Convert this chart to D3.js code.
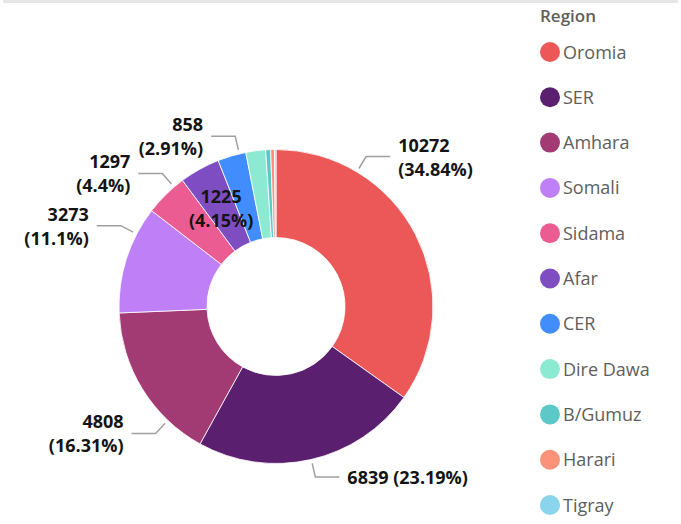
<!DOCTYPE html>
<html>
<head>
<meta charset="utf-8">
<script src="https://cdn.jsdelivr.net/npm/d3@7"></script>
<style>
  html, body { margin: 0; padding: 0; background: #fff; }
  svg { display: block; font-family: "Open Sans", "Noto Sans", sans-serif; }
</style>
</head>
<body>
<div id="chart"></div>
<script>
// data
const regions = ["Oromia", "SER", "Amhara", "Somali", "Sidama", "Afar", "CER",
  "Dire Dawa", "B/Gumuz", "Harari", "Tigray"];
const counts = [10272, 6839, 4808, 3273, 1297, 1225, 858, 600, 150, 115, 45];
const shares = ["34.84%", "23.19%", "16.31%", "11.1%", "4.4%", "4.15%", "2.91%",
  "", "", "", ""];
const colors = ["#EC5858", "#5B1F70", "#A23A74", "#BF80F7", "#EB5C93", "#7F4DC2",
  "#428DFD", "#8DEAD2", "#5CC8C7", "#FD927A", "#8AD4EC"];

// where the outside labels hook onto the ring (degrees, clockwise from top)
const labelHooks = { Oromia: 31, SER: 167, Amhara: 223.5, Somali: 297.5, Sidama: 319.5, CER: 346.5 };
const singleLine = ["SER"];
const insideLabels = ["Afar"];

const W = 681, H = 524;
const cx = 276, cy = 306.5, R = 157, r0 = 69;
const labelSize = 18;

const svg = d3.select("#chart").append("svg")
  .attr("width", W).attr("height", H);

// top grey strip
svg.append("rect")
  .attr("x", 3).attr("y", 0).attr("width", W - 6).attr("height", 3)
  .attr("fill", "#e6e6e6");

const data = regions.map((name, i) => ({ name, value: counts[i], share: shares[i], color: colors[i] }));

const pie = d3.pie().value(d => d.value).sort(null);
const arcs = pie(data);
const arc = d3.arc().innerRadius(r0).outerRadius(R);

const g = svg.append("g").attr("transform", `translate(${cx},${cy})`);

g.selectAll("path.slice")
  .data(arcs)
  .join("path")
  .attr("class", "slice")
  .attr("d", arc)
  .attr("fill", d => d.data.color)
  .attr("stroke", "#fff")
  .attr("stroke-width", 0.8);

// outside labels with elbow leaders
const pt = (deg, rad) => {
  const a = deg * Math.PI / 180;
  return [rad * Math.sin(a), -rad * Math.cos(a)];
};

arcs.filter(d => labelHooks[d.data.name] !== undefined).forEach(d => {
  const deg = labelHooks[d.data.name];
  const right = deg < 180;
  const p0 = pt(deg, R + 4);
  const p1 = pt(deg, R + 18);
  const p2 = [p1[0] + (right ? 24 : -24), p1[1]];

  g.append("polyline")
    .attr("points", [p0, p1, p2].map(p => p.join(",")).join(" "))
    .attr("fill", "none")
    .attr("stroke", "#a0a0a0")
    .attr("stroke-width", 1.5);

  const t = g.append("text")
    .attr("text-anchor", right ? "start" : "end")
    .attr("font-size", labelSize)
    .attr("font-weight", 700)
    .attr("fill", "#141414");
  const tx = p2[0] + (right ? 8 : -8);

  if (singleLine.includes(d.data.name)) {
    t.append("tspan").attr("x", tx).attr("y", p2[1] + 7)
      .text(`${d.data.value} (${d.data.share})`);
  } else {
    t.append("tspan").attr("x", tx).attr("y", p2[1] - 5).text(d.data.value);
    t.append("tspan").attr("x", tx).attr("y", p2[1] + 19).text(`(${d.data.share})`);
  }
});

// label drawn inside its slice
arcs.filter(d => insideLabels.includes(d.data.name)).forEach(d => {
  const [x, y] = arc.centroid(d);
  const t = g.append("text")
    .attr("text-anchor", "middle")
    .attr("font-size", labelSize)
    .attr("font-weight", 700)
    .attr("fill", "#141414");
  t.append("tspan").attr("x", x).attr("y", y - 5).text(d.data.value);
  t.append("tspan").attr("x", x).attr("y", y + 19).text(`(${d.data.share})`);
});

// legend
const legend = svg.append("g");
legend.append("text")
  .attr("x", 540).attr("y", 22)
  .attr("font-size", 17)
  .attr("font-weight", 600)
  .attr("fill", "#605e5c")
  .text("Region");

const ly = d3.scalePoint().domain(regions).range([52, 505]);

const items = legend.selectAll("g.item")
  .data(data)
  .join("g")
  .attr("class", "item")
  .attr("transform", d => `translate(550,${ly(d.name)})`);

items.append("circle").attr("r", 10).attr("fill", d => d.color);
items.append("text")
  .attr("x", 13).attr("y", 6.5)
  .attr("font-size", 18)
  .attr("fill", "#605e5c")
  .text(d => d.name);
</script>
</body>
</html>
